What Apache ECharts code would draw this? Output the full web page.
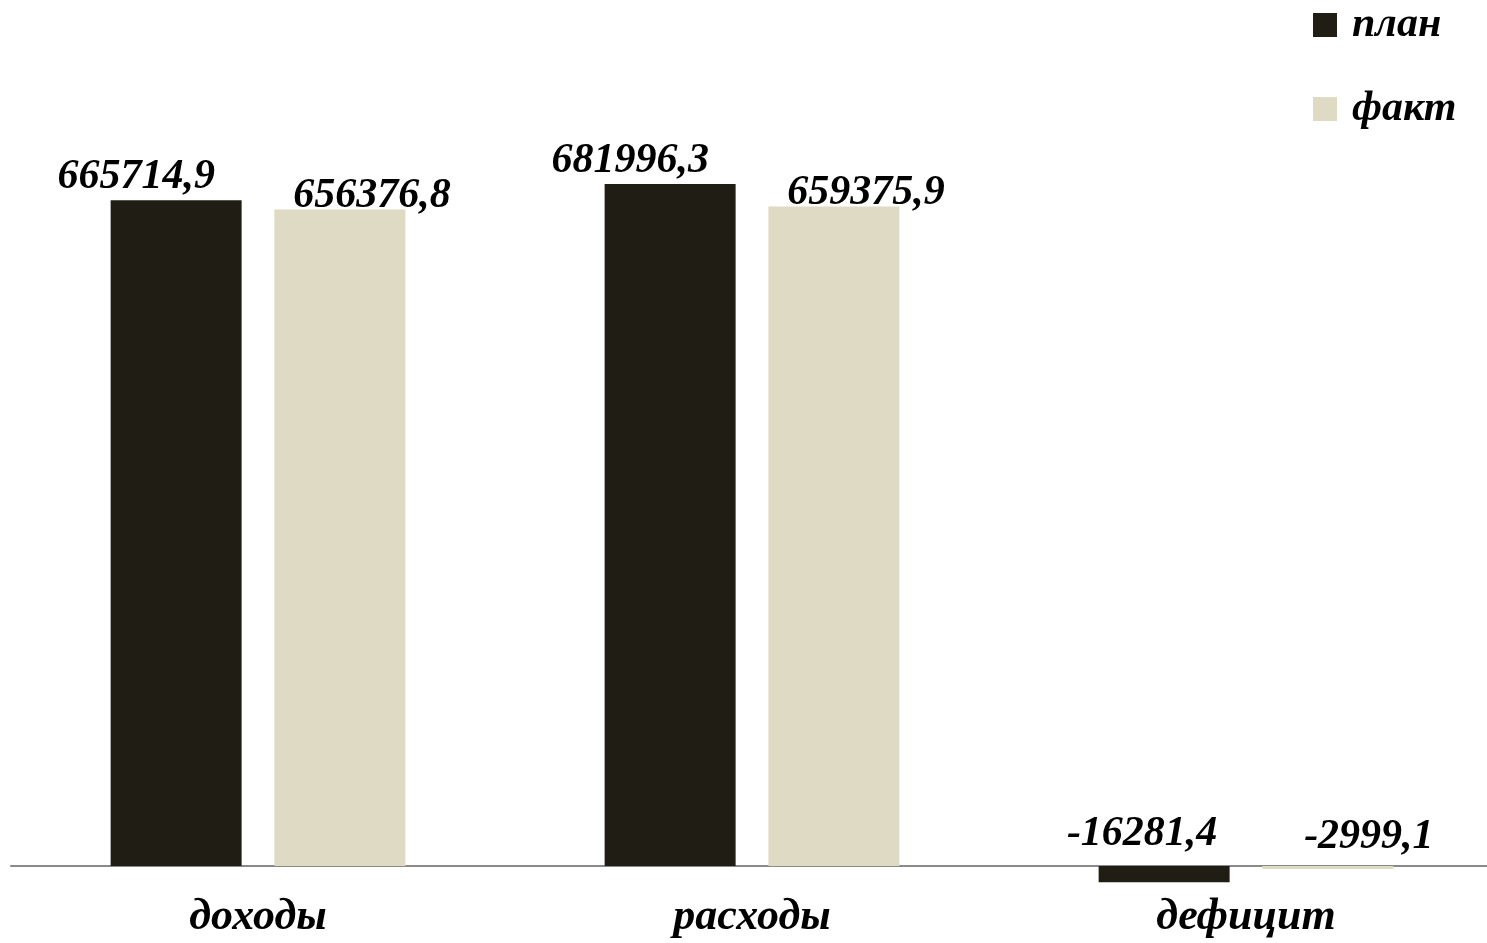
<!DOCTYPE html>
<html><head><meta charset="utf-8">
<script src="https://cdn.jsdelivr.net/npm/echarts@6/dist/echarts.min.js"></script>
<style>html,body{margin:0;padding:0;background:#fff;overflow:hidden}#c{width:1493px;height:943px}</style>
</head><body><div id="c"></div>
<script>
const categories = ['доходы', 'расходы', 'дефицит'];
const seriesNames = ['план', 'факт'];
const planValues = [665714.9, 681996.3, -16281.4];
const factValues = [656376.8, 659375.9, -2999.1];
const colors = ['#201e14', '#dedac3'];
const font = 'Liberation Serif';
const fmt = v => String(v.toFixed(1)).replace('.', ',');

function mkData(vals, dxPos, dxNeg, dyNeg) {
  return vals.map(v => ({
    value: v,
    label: v >= 0
      ? { position: 'top', offset: [dxPos, 0] }
      : { position: 'top', offset: [dxNeg, dyNeg] }
  }));
}

const chart = echarts.init(document.getElementById('c'));
chart.setOption({
  animation: false,
  backgroundColor: '#fff',
  grid: { left: 11, top: 0, right: 0, bottom: 0, containLabel: false },
  legend: {
    orient: 'vertical', left: 1313, top: 4, padding: 0, itemWidth: 24, itemHeight: 24, itemGap: 42,
    icon: 'rect',
    textStyle: { fontFamily: font, fontStyle: 'italic', fontWeight: 'bold', fontSize: 42, color: '#000', padding: [0, 0, 0, 10] },
    data: seriesNames
  },
  xAxis: {
    type: 'category', data: categories,
    axisLine: { lineStyle: { color: '#8a8a8a', width: 2 } },
    axisTick: { show: false },
    position: 'bottom',
    axisLabel: { show: false }
  },
  yAxis: { type: 'value', min: -77000, max: 866000, show: false, splitLine: { show: false } },
  series: [
    {
      name: seriesNames[0], type: 'bar', data: mkData(planValues, -40, -22, -9), barWidth: 131, barGap: '25%',
      itemStyle: { color: colors[0] },
      label: { show: true, formatter: p => fmt(p.value), fontFamily: font, fontStyle: 'italic', fontWeight: 'bold', fontSize: 42, color: '#000', distance: 2 }
    },
    {
      name: seriesNames[1], type: 'bar', data: mkData(factValues, 32, 41, -16), barWidth: 131,
      itemStyle: { color: colors[1] },
      label: { show: true, formatter: p => fmt(p.value), fontFamily: font, fontStyle: 'italic', fontWeight: 'bold', fontSize: 42, color: '#000', distance: -8 }
    }
  ],
  graphic: categories.map((c, i) => ({
    type: 'text', id: 'cat' + i,
    style: { text: c, fontFamily: font, fontStyle: 'italic', fontWeight: 'bold', fontSize: 44, fill: '#000', align: 'center', verticalAlign: 'middle' }
  }))
});
// position category labels through the axis scale
const gr = categories.map((c, i) => {
  const x = chart.convertToPixel({ xAxisIndex: 0 }, i);
  const y = chart.convertToPixel({ yAxisIndex: 0 }, 0);
  return { id: 'cat' + i, x: x, y: y + 52 };
});
chart.setOption({ graphic: gr });
</script></body></html>
